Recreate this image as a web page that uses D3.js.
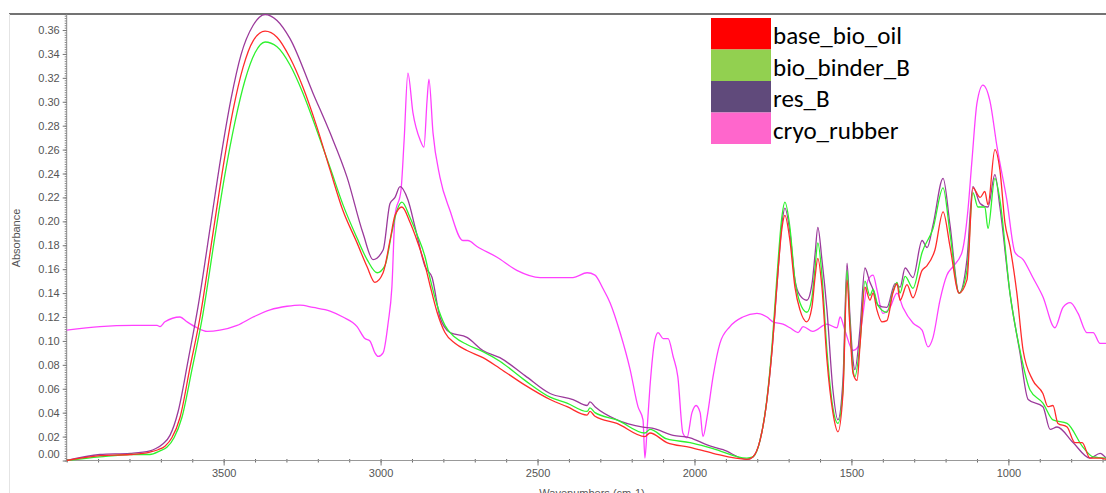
<!DOCTYPE html>
<html>
<head>
<meta charset="utf-8">
<script src="https://cdn.jsdelivr.net/npm/d3@7"></script>
<style>
  body { margin: 0; background: #fff; }
  svg { display: block; }
  .tick text { font-family: "Liberation Sans", Arial, sans-serif; font-size: 11px; fill: #555; }
</style>
</head>
<body>
<svg id="chart" width="1106" height="493"></svg>
<script>
// ---- data (wavenumber cm-1, absorbance) ----
var seriesNames = ["base_bio_oil", "bio_binder_B", "res_B", "cryo_rubber"];
var legendColors = ["#ff0000", "#92d050", "#604a7b", "#ff66cc"];
var lineColors = ["#ff2b2b", "#2ef22e", "#9b3a9b", "#ff40ff"];

var yTickLabels = ["0.00","0.02","0.04","0.06","0.08","0.10","0.12","0.14","0.16","0.18",
                   "0.20","0.22","0.24","0.26","0.28","0.30","0.32","0.34","0.36"];
var xTickLabels = [3500, 3000, 2500, 2000, 1500, 1000];

var baseBioOil = [[4000,0.000],[3894,0.004],[3798,0.005],[3735,0.007],[3709,0.009],[3687,0.012],
  [3665,0.019],[3639,0.036],[3607,0.078],[3575,0.120],[3534,0.190],[3502,0.245],[3470,0.293],
  [3438,0.329],[3406,0.351],[3368,0.359],[3330,0.354],[3289,0.337],[3247,0.312],[3203,0.279],
  [3161,0.243],[3120,0.209],[3075,0.182],[3043,0.162],[3018,0.149],[2992,0.157],[2970,0.184],
  [2954,0.205],[2932,0.212],[2906,0.199],[2884,0.184],[2858,0.163],[2843,0.147],[2820,0.124],
  [2795,0.107],[2763,0.098],[2725,0.092],[2674,0.086],[2620,0.077],[2540,0.063],[2460,0.051],
  [2406,0.045],[2342,0.038],[2333,0.041],[2317,0.037],[2247,0.031],[2158,0.020],[2142,0.023],
  [2088,0.015],[2014,0.011],[1941,0.006],[1833,0.001],[1814,0.003],[1791,0.017],[1769,0.051],
  [1753,0.092],[1737,0.148],[1721,0.195],[1712,0.205],[1696,0.184],[1680,0.145],[1664,0.126],
  [1642,0.116],[1626,0.128],[1616,0.153],[1607,0.169],[1594,0.145],[1578,0.084],[1559,0.040],
  [1543,0.024],[1527,0.056],[1514,0.151],[1505,0.112],[1495,0.073],[1482,0.067],[1473,0.095],
  [1457,0.145],[1441,0.134],[1431,0.140],[1419,0.126],[1403,0.116],[1387,0.117],[1368,0.140],
  [1355,0.148],[1345,0.134],[1323,0.147],[1304,0.136],[1275,0.159],[1259,0.163],[1234,0.176],
  [1208,0.208],[1186,0.179],[1157,0.140],[1132,0.151],[1113,0.228],[1090,0.220],[1075,0.225],
  [1065,0.214],[1043,0.260],[1027,0.243],[1011,0.199],[995,0.179],[973,0.140],[953,0.092],
  [922,0.067],[890,0.056],[874,0.045],[858,0.046],[842,0.031],[813,0.028],[788,0.015],
  [765,0.015],[740,0.002],[708,0.002],[689,0.001]];

var bioBinderB = [[4000,0.000],[3894,0.003],[3798,0.005],[3735,0.005],[3703,0.008],[3681,0.011],
  [3658,0.019],[3633,0.036],[3601,0.076],[3569,0.118],[3528,0.187],[3496,0.239],[3464,0.283],
  [3432,0.318],[3400,0.341],[3368,0.350],[3330,0.346],[3289,0.331],[3247,0.307],[3203,0.276],
  [3161,0.245],[3120,0.214],[3075,0.186],[3043,0.168],[3011,0.157],[2986,0.163],[2964,0.191],
  [2948,0.209],[2932,0.216],[2906,0.203],[2884,0.189],[2858,0.170],[2843,0.153],[2820,0.130],
  [2795,0.113],[2763,0.103],[2725,0.097],[2674,0.091],[2620,0.083],[2540,0.067],[2460,0.053],
  [2406,0.048],[2342,0.041],[2333,0.044],[2317,0.040],[2247,0.034],[2158,0.023],[2142,0.026],
  [2088,0.018],[2014,0.015],[1941,0.010],[1833,0.002],[1814,0.003],[1791,0.017],[1769,0.052],
  [1753,0.096],[1737,0.155],[1721,0.205],[1712,0.216],[1696,0.195],[1680,0.151],[1664,0.132],
  [1642,0.124],[1626,0.136],[1616,0.161],[1607,0.182],[1594,0.155],[1578,0.092],[1559,0.044],
  [1543,0.031],[1527,0.059],[1514,0.159],[1505,0.116],[1495,0.076],[1489,0.070],[1473,0.097],
  [1457,0.150],[1441,0.138],[1431,0.143],[1416,0.130],[1387,0.124],[1368,0.141],[1355,0.149],
  [1345,0.140],[1329,0.154],[1304,0.144],[1275,0.174],[1240,0.194],[1208,0.228],[1186,0.190],
  [1157,0.140],[1132,0.159],[1113,0.224],[1097,0.212],[1075,0.212],[1065,0.194],[1043,0.236],
  [1027,0.218],[995,0.140],[963,0.092],[931,0.059],[890,0.048],[858,0.034],[813,0.031],
  [762,0.011],[730,0.003],[689,0.002]];

var resB = [[4000,0.000],[3894,0.005],[3798,0.006],[3735,0.008],[3716,0.010],[3693,0.014],
  [3671,0.021],[3645,0.041],[3613,0.084],[3582,0.128],[3540,0.200],[3508,0.255],[3476,0.303],
  [3445,0.339],[3406,0.364],[3368,0.373],[3330,0.368],[3289,0.353],[3215,0.307],[3161,0.274],
  [3107,0.237],[3056,0.190],[3024,0.168],[2992,0.176],[2970,0.215],[2954,0.220],[2938,0.229],
  [2913,0.218],[2890,0.195],[2858,0.162],[2836,0.153],[2811,0.120],[2779,0.107],[2725,0.103],
  [2674,0.092],[2620,0.086],[2540,0.071],[2460,0.056],[2387,0.051],[2342,0.046],[2333,0.049],
  [2317,0.045],[2247,0.034],[2164,0.028],[2135,0.027],[2068,0.021],[2014,0.019],[1960,0.013],
  [1909,0.009],[1833,0.001],[1814,0.003],[1791,0.017],[1769,0.051],[1753,0.092],[1737,0.147],
  [1721,0.199],[1712,0.211],[1696,0.191],[1680,0.151],[1664,0.138],[1642,0.134],[1626,0.147],
  [1616,0.172],[1607,0.195],[1594,0.168],[1578,0.126],[1559,0.059],[1543,0.034],[1527,0.067],
  [1514,0.165],[1505,0.122],[1495,0.084],[1489,0.076],[1473,0.109],[1457,0.161],[1441,0.149],
  [1431,0.143],[1416,0.130],[1387,0.128],[1361,0.148],[1345,0.145],[1329,0.161],[1304,0.153],
  [1275,0.184],[1259,0.178],[1240,0.197],[1208,0.236],[1186,0.197],[1157,0.140],[1132,0.168],
  [1113,0.229],[1090,0.215],[1065,0.212],[1043,0.239],[1027,0.212],[995,0.140],[963,0.090],
  [937,0.051],[890,0.045],[867,0.026],[845,0.028],[794,0.015],[740,0.002],[708,0.006],[689,0.002]];

var cryoRubber = [[4000,0.109],[3894,0.112],[3789,0.113],[3712,0.113],[3703,0.112],[3687,0.116],
  [3639,0.120],[3617,0.116],[3585,0.111],[3553,0.108],[3512,0.109],[3457,0.113],[3406,0.120],
  [3352,0.126],[3298,0.129],[3257,0.130],[3215,0.128],[3161,0.125],[3120,0.120],[3075,0.112],
  [3050,0.102],[3034,0.100],[3018,0.090],[3008,0.087],[2992,0.090],[2976,0.115],[2964,0.145],
  [2954,0.205],[2935,0.226],[2925,0.268],[2913,0.324],[2897,0.291],[2874,0.268],[2862,0.262],
  [2852,0.301],[2846,0.319],[2833,0.274],[2811,0.237],[2779,0.209],[2738,0.184],[2722,0.184],
  [2693,0.179],[2629,0.170],[2566,0.159],[2492,0.153],[2428,0.153],[2387,0.153],[2342,0.157],
  [2317,0.155],[2292,0.144],[2269,0.132],[2237,0.107],[2205,0.076],[2180,0.045],[2164,0.034],
  [2158,0.002],[2151,0.026],[2142,0.061],[2126,0.101],[2116,0.107],[2100,0.102],[2084,0.102],
  [2068,0.087],[2053,0.070],[2037,0.023],[2024,0.019],[2008,0.040],[1995,0.046],[1982,0.040],
  [1973,0.020],[1960,0.036],[1941,0.070],[1919,0.098],[1887,0.112],[1846,0.120],[1801,0.123],
  [1769,0.120],[1750,0.116],[1718,0.114],[1696,0.111],[1670,0.107],[1654,0.112],[1623,0.108],
  [1578,0.114],[1546,0.111],[1536,0.120],[1521,0.109],[1495,0.092],[1479,0.095],[1463,0.123],
  [1447,0.151],[1431,0.155],[1419,0.143],[1400,0.123],[1377,0.128],[1355,0.140],[1336,0.128],
  [1304,0.115],[1275,0.109],[1256,0.095],[1240,0.103],[1218,0.134],[1196,0.155],[1177,0.162],
  [1148,0.174],[1129,0.209],[1116,0.251],[1100,0.299],[1081,0.314],[1059,0.301],[1036,0.262],
  [1005,0.218],[979,0.174],[953,0.168],[922,0.153],[890,0.137],[852,0.111],[826,0.128],
  [803,0.132],[778,0.123],[750,0.107],[730,0.107],[708,0.098],[689,0.098]];

var allSeries = [baseBioOil, bioBinderB, resB, cryoRubber];

// ---- drawing ----
var svg = d3.select("#chart");
var plotLeft = 66.7, plotRight = 1106, plotTop = 14, plotBottom = 460.5;

var x = d3.scaleLinear().domain([4000, 689]).range([plotLeft, plotRight]);
var y = d3.scaleLinear().domain([0, 0.3734]).range([plotBottom, plotTop]);

// frame lines
svg.append("line").attr("x1", 9).attr("x2", 1106).attr("y1", 14).attr("y2", 14)
  .attr("stroke", "#444").attr("stroke-width", 1.5);
svg.append("line").attr("x1", 9.5).attr("x2", 9.5).attr("y1", 14).attr("y2", 493)
  .attr("stroke", "#e4e4e4").attr("stroke-width", 1);

// y axis: minor then major
var yMinor = d3.range(0, 0.373, 0.002);
svg.append("g").attr("transform", "translate(" + plotLeft + ",0)")
  .call(d3.axisLeft(y).tickValues(yMinor).tickSize(2).tickFormat(""))
  .call(function(g) { g.select(".domain").remove(); g.selectAll("line").attr("stroke", "#888"); });

var yAxis = svg.append("g").attr("transform", "translate(" + plotLeft + ",0)")
  .call(d3.axisLeft(y).tickValues(yTickLabels.map(Number)).tickSize(4).tickPadding(3)
    .tickFormat(function(d, i) { return yTickLabels[i]; }));
yAxis.select(".domain").attr("stroke", "#888").attr("d", "M0," + plotTop + "V" + plotBottom);
yAxis.selectAll(".tick line").attr("stroke", "#777");
// bottom label sits a bit higher, as in the original
yAxis.selectAll(".tick text").filter(function(d) { return d === 0; }).attr("y", -7);

svg.append("text").attr("transform", "translate(20,238) rotate(-90)")
  .attr("text-anchor", "middle")
  .style("font-family", "'Liberation Sans', Arial, sans-serif").style("font-size", "11px")
  .attr("fill", "#555").text("Absorbance");

// x axis
var xMinor = d3.range(700, 4001, 100);
svg.append("g").attr("transform", "translate(0," + plotBottom + ")")
  .call(d3.axisBottom(x).tickValues(xMinor).tickSize(2).tickFormat(""))
  .call(function(g) { g.select(".domain").remove(); g.selectAll("line").attr("stroke", "#666").attr("y1", -1.5); });

var xAxis = svg.append("g").attr("transform", "translate(0," + plotBottom + ")")
  .call(d3.axisBottom(x).tickValues(xTickLabels).tickSize(5).tickPadding(4).tickFormat(d3.format("d")));
xAxis.select(".domain").attr("stroke", "#999").attr("d", "M" + plotLeft + ",0H" + plotRight);
xAxis.selectAll(".tick line").attr("stroke", "#777");

svg.append("text").attr("x", 592).attr("y", 497).attr("text-anchor", "middle")
  .style("font-family", "'Liberation Sans', Arial, sans-serif").style("font-size", "11px")
  .attr("fill", "#555").text("Wavenumbers (cm-1)");

// spectra
svg.append("clipPath").attr("id", "plotclip").append("rect")
  .attr("x", plotLeft).attr("y", plotTop).attr("width", plotRight - plotLeft).attr("height", plotBottom - plotTop + 1);

var line = d3.line()
  .x(function(d) { return x(d[0]); })
  .y(function(d) { return y(d[1]); })
  .curve(d3.curveMonotoneX);

var drawOrder = [3, 2, 1, 0];
svg.append("g").attr("clip-path", "url(#plotclip)")
  .selectAll("path").data(drawOrder).enter().append("path")
  .attr("d", function(i) { return line(allSeries[i].slice().reverse()); })
  .attr("fill", "none")
  .attr("stroke", function(i) { return lineColors[i]; })
  .attr("stroke-width", 1.3)
  .attr("stroke-linejoin", "round");

// legend (pasted-on box in the original)
var legendRows = [18, 49.5, 81, 112.5];
var legend = svg.append("g");
legend.selectAll("rect").data(seriesNames).enter().append("rect")
  .attr("x", 711).attr("width", 60)
  .attr("y", function(d, i) { return legendRows[i]; })
  .attr("height", 31.5)
  .attr("fill", function(d, i) { return legendColors[i]; });
legend.selectAll("text").data(seriesNames).enter().append("text")
  .attr("x", 773)
  .attr("y", function(d, i) { return legendRows[i] + 26; })
  .style("font-family", "Carlito, Lato, 'Open Sans', sans-serif").style("font-size", "25px")
  .attr("fill", "#000")
  .text(function(d) { return d; });
</script>
</body>
</html>
